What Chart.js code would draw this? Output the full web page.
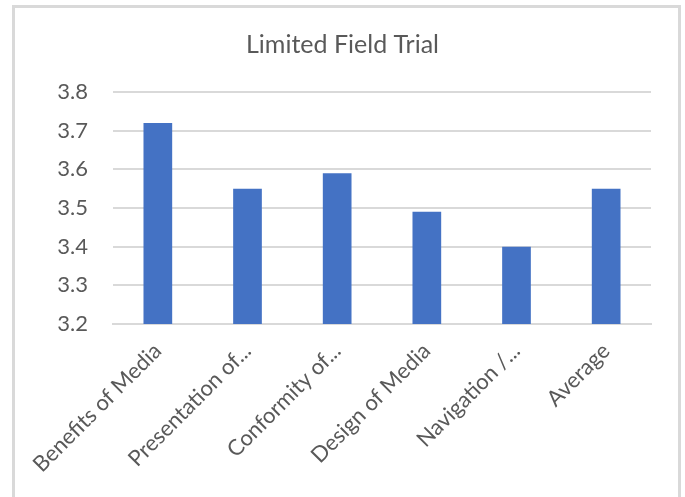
<!DOCTYPE html>
<html>
<head>
<meta charset="utf-8">
<title>Limited Field Trial</title>
<script src="https://cdn.jsdelivr.net/npm/chart.js@4"></script>
<style>
    html, body {
        margin: 0;
        padding: 0;
        background: #ffffff;
        overflow: hidden;
    }
    #frame {
        position: absolute;
        left: 12px;
        top: 5px;
        width: 669px;
        height: 520px;
        border: 3px solid #d9d9d9;
        box-sizing: border-box;
    }
    #wrap {
        position: absolute;
        left: 0;
        top: 0;
        width: 685px;
        height: 497px;
    }
</style>
</head>
<body>
<div id="frame"></div>
<div id="wrap"><canvas id="fieldTrialChart"></canvas></div>
<script>
// Category labels as shown on the axis (long ones are cut off)
const categories = ['Benefits of Media', 'Presentation of...', 'Conformity of...', 'Design of Media', 'Navigation /...', 'Average'];
// Mean score per aspect
const scores = [3.72, 3.55, 3.59, 3.49, 3.40, 3.55];
// Value axis range
const yMin = 3.2;
const yMax = 3.8;
const yStep = 0.1;

const labelColor = '#595959';
const gridColor = '#d9d9d9';
const barColor = '#4472c4';
const fontFamily = 'Lato, "Open Sans", sans-serif';

document.addEventListener('DOMContentLoaded', function() {
    const ctx = document.getElementById('fieldTrialChart').getContext('2d');

    window.fieldTrialChart = new Chart(ctx, {
        type: 'bar',
        data: {
            labels: categories,
            datasets: [{
                label: 'Score',
                data: scores,
                backgroundColor: barColor,
                borderWidth: 0,
                categoryPercentage: 1,
                barPercentage: 0.32
            }]
        },
        options: {
            responsive: true,
            maintainAspectRatio: false,
            animation: false,
            layout: {
                padding: 0
            },
            plugins: {
                legend: { display: false },
                tooltip: { enabled: false },
                title: {
                    display: true,
                    text: 'Limited Field Trial',
                    color: labelColor,
                    font: { family: fontFamily, size: 25, weight: 'normal' },
                    padding: { top: 30, bottom: 32 }
                }
            },
            scales: {
                y: {
                    min: yMin,
                    max: yMax,
                    ticks: {
                        stepSize: yStep,
                        color: labelColor,
                        padding: 25,
                        font: { family: fontFamily, size: 22 },
                        callback: function(value) {
                            return value.toFixed(1);
                        }
                    },
                    grid: {
                        color: gridColor,
                        lineWidth: 2,
                        drawTicks: false
                    },
                    border: { display: false },
                    afterFit: function(scale) {
                        scale.width = 113;
                    }
                },
                // empty right-hand axis, only reserves the right margin
                yRight: {
                    position: 'right',
                    min: yMin,
                    max: yMax,
                    ticks: { display: false },
                    grid: { display: false, drawTicks: false },
                    border: { display: false },
                    afterFit: function(scale) {
                        scale.width = 34;
                    }
                },
                x: {
                    ticks: {
                        color: labelColor,
                        minRotation: 45,
                        maxRotation: 45,
                        autoSkip: false,
                        padding: 6,
                        font: { family: fontFamily, size: 22 }
                    },
                    grid: { display: false },
                    border: { color: gridColor, width: 2 },
                    afterFit: function(scale) {
                        scale.height = 497 - 324;
                    }
                }
            }
        }
    });
});
</script>
</body>
</html>
